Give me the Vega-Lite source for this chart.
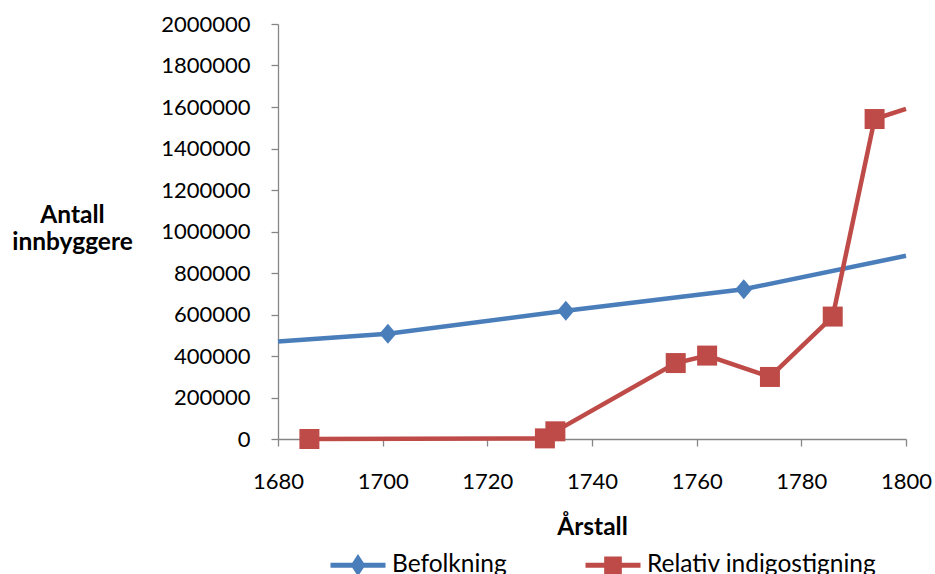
{
  "$schema": "https://vega.github.io/schema/vega-lite/v6.json",
  "width": 628,
  "height": 415,
  "autosize": {"type": "none"},
  "padding": {"left": 278, "top": 24, "right": 29, "bottom": 135},
  "background": "white",
  "config": {
    "view": {"stroke": null},
    "font": "Lato",
    "axis": {
      "grid": false,
      "domainColor": "#868686",
      "domainWidth": 1.3,
      "tickColor": "#868686",
      "tickWidth": 1.3,
      "tickSize": 7,
      "labelColor": "#000000",
      "labelFont": "Lato",
      "labelFontSize": 22,
      "labelFlush": false,
      "labelOverlap": false,
      "titleColor": "#000000",
      "titleFont": "Lato",
      "titleFontSize": 24.5,
      "titleFontWeight": "bold"
    }
  },
  "data": {
    "values": [
      {"serie": "Befolkning", "year": 1680, "value": 470000},
      {"serie": "Befolkning", "year": 1701, "value": 507000},
      {"serie": "Befolkning", "year": 1735, "value": 618000},
      {"serie": "Befolkning", "year": 1769, "value": 722000},
      {"serie": "Befolkning", "year": 1800, "value": 883000},
      {"serie": "Relativ indigostigning", "year": 1686, "value": 0},
      {"serie": "Relativ indigostigning", "year": 1731, "value": 3000},
      {"serie": "Relativ indigostigning", "year": 1733, "value": 37000},
      {"serie": "Relativ indigostigning", "year": 1756, "value": 366000},
      {"serie": "Relativ indigostigning", "year": 1762, "value": 402000},
      {"serie": "Relativ indigostigning", "year": 1774, "value": 299000},
      {"serie": "Relativ indigostigning", "year": 1786, "value": 590000},
      {"serie": "Relativ indigostigning", "year": 1794, "value": 1542000},
      {"serie": "Relativ indigostigning", "year": 1800, "value": 1591000}
    ]
  },
  "encoding": {
    "x": {
      "field": "year",
      "type": "quantitative",
      "scale": {"domain": [1680, 1800], "nice": false, "zero": false},
      "axis": {
        "values": [1680, 1700, 1720, 1740, 1760, 1780, 1800],
        "format": "d",
        "labelPadding": 25,
        "title": "Årstall",
        "titleBaseline": "alphabetic",
        "titleY": 95
      }
    },
    "y": {
      "field": "value",
      "type": "quantitative",
      "scale": {"domain": [0, 2000000], "nice": false},
      "axis": {
        "values": [0, 200000, 400000, 600000, 800000, 1000000, 1200000, 1400000, 1600000, 1800000, 2000000],
        "format": "d",
        "labelPadding": 21,
        "title": ["Antall", "innbyggere"],
        "titleAngle": 0,
        "titleAlign": "center",
        "titleBaseline": "alphabetic",
        "titleX": -206,
        "titleY": 198,
        "titleLineHeight": 27
      }
    }
  },
  "layer": [
    {
      "mark": {"type": "line", "strokeWidth": 4.5},
      "encoding": {
        "color": {
          "field": "serie",
          "type": "nominal",
          "scale": {"domain": ["Befolkning", "Relativ indigostigning"], "range": ["#4A7EBB", "#BE4B48"]},
          "legend": {
            "orient": "none",
            "legendX": 50,
            "legendY": 511,
            "direction": "horizontal",
            "title": null,
            "padding": 0,
            "symbolSize": 3025,
            "symbolStrokeWidth": 5,
            "labelOffset": 4,
            "columnPadding": 68,
            "labelFont": "Lato",
            "labelFontSize": 24.5,
            "labelColor": "#000000",
            "labelLimit": 400,
            "encode": {
              "symbols": {
                "update": {
                  "shape": {"signal": "datum.value === 'Befolkning' ? 'M-1,0H1M0,-0.24L0.16,0L0,0.24L-0.16,0Z' : 'M-1,0H1M-0.23,-0.23H0.23V0.23H-0.23Z'"},
                  "fill": {"signal": "datum.value === 'Befolkning' ? '#4A7EBB' : '#BE4B48'"},
                  "stroke": {"signal": "datum.value === 'Befolkning' ? '#4A7EBB' : '#BE4B48'"},
                  "fillOpacity": {"value": 1},
                  "strokeOpacity": {"value": 1},
                  "strokeWidth": {"value": 5}
                }
              }
            }
          }
        }
      }
    },
    {
      "transform": [{"filter": "datum.serie === 'Befolkning' && datum.year > 1680 && datum.year < 1800"}],
      "mark": {"type": "point", "filled": true, "opacity": 1, "size": 400, "shape": "M0,-1L0.85,0L0,1L-0.85,0Z", "color": "#4A7EBB"}
    },
    {
      "transform": [{"filter": "datum.serie === 'Relativ indigostigning' && datum.year > 1680 && datum.year < 1800"}],
      "mark": {"type": "point", "filled": true, "opacity": 1, "size": 400, "shape": "square", "color": "#BE4B48"}
    }
  ]
}
